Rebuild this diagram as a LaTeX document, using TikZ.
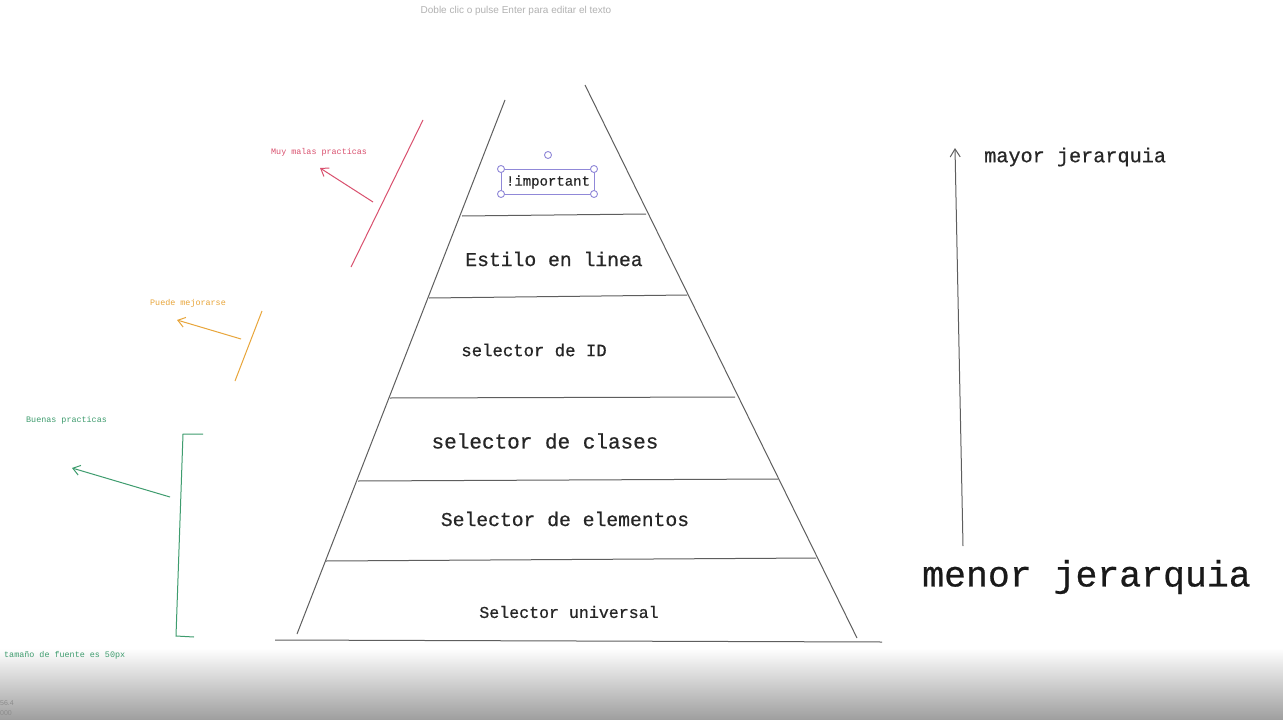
\documentclass[tikz,border=0pt]{standalone}
\usepackage{fontspec}
\setmainfont{Liberation Sans}
\newfontfamily\monof[FakeBold=0.6]{Liberation Mono}
\newfontfamily\monolight{Liberation Mono}
\usetikzlibrary{arrows.meta}
\definecolor{pyr}{HTML}{5E5E5E}
\definecolor{redc}{HTML}{D9506E}
\definecolor{orc}{HTML}{E8A53A}
\definecolor{grc}{HTML}{3E9C6E}
\definecolor{selc}{HTML}{9088D8}
\tikzset{
  pyrline/.style={draw=pyr, line width=1pt},
  lvl/.style={font=\monof\fontsize{#1}{#1}\selectfont, text=black!85, inner sep=0pt},
  note/.style={font=\monolight\fontsize{8.4}{9}\selectfont, inner sep=0pt, anchor=west},
  barb/.style={-{Straight Barb[length=7pt,width=10pt]}, line width=1pt},
  handle/.style={circle, draw=selc, fill=white, line width=0.9pt, minimum size=7pt, inner sep=0pt}
}
\begin{document}
\begin{tikzpicture}[x=1pt,y=-1pt]
\useasboundingbox (0,0) rectangle (1283,720);
\fill[white] (0,0) rectangle (1283,720);
\shade[top color=white, bottom color=black!38] (0,648) rectangle (1283,720);
% top faint text
\node[font=\fontsize{10}{11}\selectfont, text=black!30, inner sep=0pt] (hint) at (516,11) {Doble clic o pulse Enter para editar el texto};
% pyramid
\coordinate (lt) at (505,100); \coordinate (lb) at (297,634);
\coordinate (rt) at (585,85);  \coordinate (rb) at (857,638);
\coordinate (b1) at (275,640); \coordinate (b2) at (882,642);
\draw[pyrline] (lt) -- (lb);
\draw[pyrline] (rt) -- (rb);
\draw[pyrline] (b1) -- (b2);
\coordinate (h1a) at (462,216); \coordinate (h1b) at (646,214);
\coordinate (h2a) at (429,298); \coordinate (h2b) at (687,295);
\coordinate (h3a) at (390,398); \coordinate (h3b) at (735,397);
\coordinate (h4a) at (358,481); \coordinate (h4b) at (778,479);
\coordinate (h5a) at (326,561); \coordinate (h5b) at (816,558);
\draw[pyrline] (h1a) -- (h1b);
\draw[pyrline] (h2a) -- (h2b);
\draw[pyrline] (h3a) -- (h3b);
\draw[pyrline] (h4a) -- (h4b);
\draw[pyrline] (h5a) -- (h5b);
% labels
\node[lvl=14] (imp) at (548,182) {!important};
\node[lvl=19.7] (inl) at (554,259) {Estilo en linea};
\node[lvl=17.3] (idn) at (534,350) {selector de ID};
\node[lvl=21] (cls) at (545,441) {selector de clases};
\node[lvl=19.7] (ele) at (565,519) {Selector de elementos};
\node[lvl=16.6] (uni) at (569,612) {Selector universal};
% selection box
\draw[selc, line width=1pt] (501,169) rectangle (594,194);
\node[handle] (s1) at (501,169) {};
\node[handle] (s2) at (594,169) {};
\node[handle] (s3) at (501,194) {};
\node[handle] (s4) at (594,194) {};
\node[handle] (s5) at (548,155) {};
% red note
\coordinate (r1) at (423,120); \coordinate (r2) at (351,267);
\draw[redc, line width=1pt] (r1) -- (r2);
\coordinate (ra) at (373,202); \coordinate (rb2) at (320,168);
\draw[redc, barb] (ra) -- (rb2);
\node[note, text=redc] (muy) at (271,152) {Muy malas practicas};
% orange note
\coordinate (o1) at (262,311); \coordinate (o2) at (235,381);
\draw[orc, line width=1pt] (o1) -- (o2);
\coordinate (oa) at (241,339); \coordinate (ob) at (177,320);
\draw[orc, barb] (oa) -- (ob);
\node[note, text=orc] (pue) at (150,303) {Puede mejorarse};
% green note
\coordinate (g1) at (203,434); \coordinate (g2) at (183,434);
\coordinate (g3) at (176,636); \coordinate (g4) at (194,637);
\draw[grc, line width=1pt] (g1) -- (g2) -- (g3) -- (g4);
\coordinate (ga) at (170,497); \coordinate (gb) at (72,468);
\draw[grc, barb] (ga) -- (gb);
\node[note, text=grc] (bue) at (26,420) {Buenas practicas};
\node[note, text=grc] (tam) at (4,655) {tamaño de fuente es 50px};
% right arrow
\coordinate (ar1) at (963,546); \coordinate (ar2) at (955,148);
\draw[pyr, line width=1pt, -{Straight Barb[length=8pt,width=10pt]}] (ar1) -- (ar2);
\node[lvl=20.2, anchor=west] (may) at (984,157) {mayor jerarquia};
\node[lvl=36.5, anchor=west, text=black!90] (men) at (922,577) {menor jerarquia};
% tiny bottom-left texts
\node[font=\fontsize{7}{8}\selectfont, text=black!45, inner sep=0pt, anchor=west] (v1) at (0,703) {56.4};
\node[font=\fontsize{7}{8}\selectfont, text=black!45, inner sep=0pt, anchor=west] (v2) at (0,713) {000};
\end{tikzpicture}
\end{document}
